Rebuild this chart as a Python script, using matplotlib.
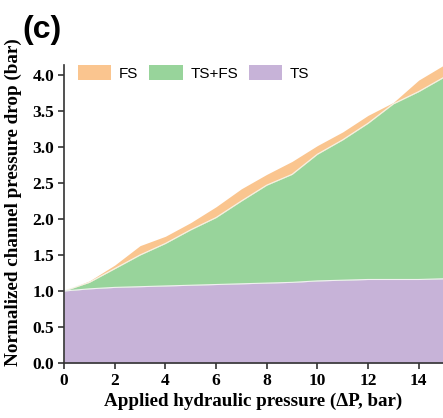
import numpy as np
import matplotlib.pyplot as plt

# Datos (c)
presion = [0, 1, 2, 3, 4, 5, 6, 7, 8, 9, 10, 11, 12, 13, 14, 15]
ts = [1.00, 1.03, 1.05, 1.06, 1.07, 1.08, 1.09, 1.10, 1.11, 1.12, 1.14, 1.15, 1.16, 1.16, 1.16, 1.17]
ts_fs = [1.00, 1.12, 1.31, 1.50, 1.66, 1.85, 2.02, 2.25, 2.47, 2.62, 2.90, 3.10, 3.33, 3.60, 3.77, 3.97]
fs = [1.00, 1.14, 1.36, 1.63, 1.76, 1.95, 2.17, 2.42, 2.62, 2.80, 3.02, 3.21, 3.44, 3.62, 3.93, 4.14]

color_fs = '#FAC58F'
color_tsfs = '#98D49B'
color_ts = '#C7B3D8'

serif = ['Liberation Serif', 'DejaVu Serif']
sans = ['Liberation Sans', 'DejaVu Sans']

fig = plt.figure(figsize=(4.43, 4.18), dpi=100)
ax = fig.add_axes([0.1445, 0.1316, 0.855, 0.713])

x = np.array(presion)
ax.fill_between(x, ts_fs, fs, color=color_fs, lw=0, label='FS')
ax.fill_between(x, ts, ts_fs, color=color_tsfs, lw=0, label='TS+FS')
ax.fill_between(x, 0, ts, color=color_ts, lw=0, label='TS')
# bordes claros entre regiones
ax.plot(x, ts_fs, color='#F4F4E8', lw=0.8)
ax.plot(x, ts, color='#F0F0F0', lw=0.8)

ax.set_xlim(0, 14.95)
ax.set_ylim(0, 4.14)
ax.set_xticks(range(0, 15, 2))
ax.set_yticks(np.arange(0, 4.01, 0.5))
ax.set_yticklabels([f'{v:.1f}' for v in np.arange(0, 4.01, 0.5)])

for s in ['top', 'right']:
    ax.spines[s].set_visible(False)
for s in ['left', 'bottom']:
    ax.spines[s].set_color('#333333')
    ax.spines[s].set_linewidth(1.2)
ax.tick_params(direction='out', length=4, width=1.2, color='#333333', pad=3)
for lab in ax.get_xticklabels() + ax.get_yticklabels():
    lab.set_family(serif)
    lab.set_fontweight('bold')
    lab.set_fontsize(12.5)

ax.set_xlabel('Applied hydraulic pressure (ΔP, bar)', family=serif, fontweight='bold', fontsize=13.7, labelpad=3)
ax.set_ylabel('Normalized channel pressure drop (bar)', family=serif, fontweight='bold', fontsize=13.8)
ax.yaxis.set_label_coords(-0.112, 0.54)

ax.legend(loc='upper left', ncol=3, frameon=False, prop={'family': sans, 'size': 11},
          handlelength=2.2, handleheight=1.1, handletextpad=0.5, columnspacing=0.7,
          borderaxespad=0.0, bbox_to_anchor=(0.02, 1.02))

fig.text(0.05, 0.965, '(c)', family=sans, fontweight='bold', fontsize=23, va='top', ha='left')

plt.savefig('out.png', dpi=100)
